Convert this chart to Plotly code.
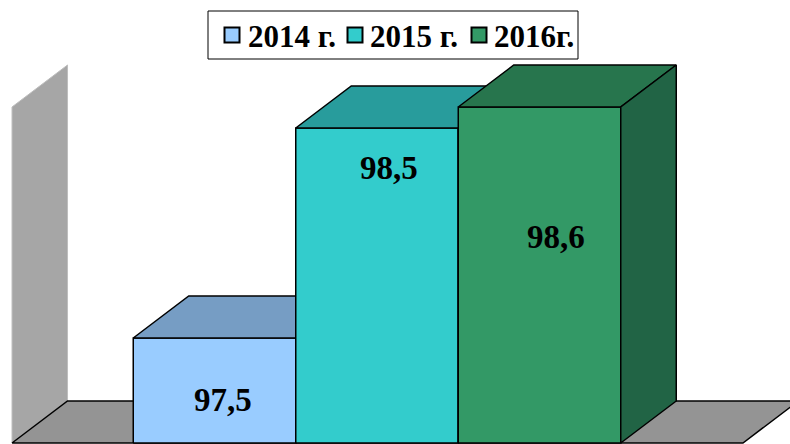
import plotly.graph_objects as go

# ---- data ----
years = ["2014 г.", "2015 г.", "2016г."]
values = [97.5, 98.5, 98.6]
value_labels = ["97,5", "98,5", "98,6"]

front_colors = ["#99ccff", "#33cccc", "#339966"]
top_colors = ["#769dc4", "#289c9c", "#27754d"]
side_colors = ["#6f93b8", "#248c8c", "#216445"]

# ---- geometry (axis units) ----
BASE = 97.0          # value-axis minimum
WALL_TOP = 98.6      # value-axis maximum shown on the wall
DX = 0.3415          # depth offset along x (category units)
DZ = 0.2             # depth offset along value axis
HALF = 0.5           # half bar width (bars touch)
FLOOR_L, FLOOR_R = -1.246, 3.252

W, H = 790, 444

fig = go.Figure()


def poly(pts, fill, line_color="black", line_width=1.5):
    xs = [p[0] for p in pts] + [pts[0][0]]
    ys = [p[1] for p in pts] + [pts[0][1]]
    fig.add_trace(go.Scatter(
        x=xs, y=ys, mode="lines", fill="toself", fillcolor=fill,
        line=dict(color=line_color, width=line_width),
        hoverinfo="skip", showlegend=False))


# back (left) wall
poly([(FLOOR_L, BASE), (FLOOR_L, WALL_TOP), (FLOOR_L + DX, WALL_TOP + DZ),
      (FLOOR_L + DX, BASE + DZ)], "#a6a6a6", line_color="#bdbdbd", line_width=1)
# floor
poly([(FLOOR_L, BASE), (FLOOR_R, BASE), (FLOOR_R + DX, BASE + DZ),
      (FLOOR_L + DX, BASE + DZ)], "#949494", line_color="black", line_width=1.5)

# bars: front, top, side faces in painter's order
for i, v in enumerate(values):
    x0, x1 = i - HALF, i + HALF
    poly([(x0, BASE), (x1, BASE), (x1, v), (x0, v)], front_colors[i])
    poly([(x0, v), (x1, v), (x1 + DX, v + DZ), (x0 + DX, v + DZ)], top_colors[i])
    poly([(x1, BASE), (x1 + DX, BASE + DZ), (x1 + DX, v + DZ), (x1, v)], side_colors[i])

# value labels
label_dx = [0.052, 0.074, 0.10]
label_y = [97.205, 98.31, 97.98]
for i, t in enumerate(value_labels):
    fig.add_annotation(x=i + label_dx[i], y=label_y[i], text=t, showarrow=False,
                       font=dict(family="Liberation Serif", size=33, color="black",
                                 weight="bold"))

# legend (box, colour squares, texts) in paper coordinates
def px(x):
    return x / W


def py(y):
    return 1 - y / H


fig.add_shape(type="rect", xref="paper", yref="paper",
              x0=px(208), x1=px(578), y0=py(59), y1=py(11),
              line=dict(color="black", width=1), fillcolor="white", layer="above")
sq_cx = [232, 355, 479]
txt_x = [246, 368, 492]
for i, y in enumerate(years):
    fig.add_shape(type="rect", xref="paper", yref="paper",
                  x0=px(sq_cx[i] - 7.5), x1=px(sq_cx[i] + 7.5),
                  y0=py(42.5), y1=py(27.5),
                  line=dict(color="black", width=2), fillcolor=front_colors[i],
                  layer="above")
    fig.add_annotation(xref="paper", yref="paper", x=px(txt_x[i]), y=py(36),
                       xanchor="left", yanchor="middle", text=y, showarrow=False,
                       font=dict(family="Liberation Serif", size=31, color="black",
                                 weight="bold"))

fig.update_layout(
    width=W, height=H,
    margin=dict(l=0, r=0, t=0, b=0),
    paper_bgcolor="white", plot_bgcolor="white",
    xaxis=dict(range=[-1.32, 3.5415], visible=False, fixedrange=True),
    yaxis=dict(range=[96.9952, 99.1095], visible=False, fixedrange=True),
    showlegend=False,
)

fig.write_html("out.html", config={"displayModeBar": False},
               post_script="document.body.style.margin='0px';")
